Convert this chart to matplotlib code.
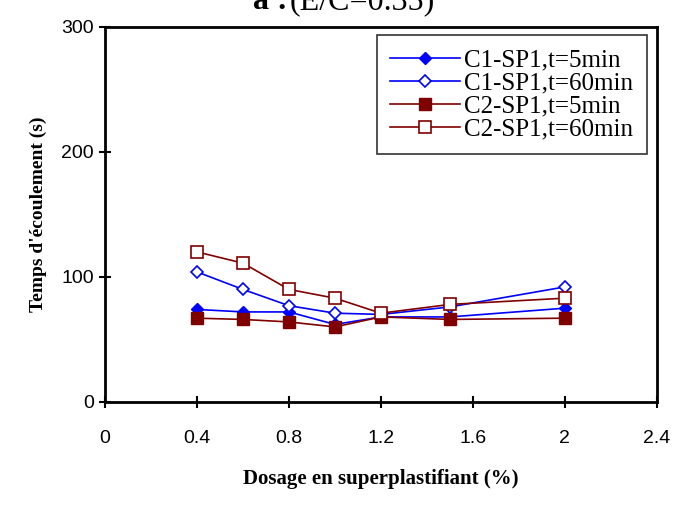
import matplotlib
matplotlib.use("Agg")
import matplotlib.pyplot as plt

# dosage (%) and flow time (s)
dosage = [0.4, 0.6, 0.8, 1.0, 1.2, 1.5, 2.0]
c1_5 = [74, 72, 72, 62, 68, 68, 75]
c1_60 = [104, 90, 77, 71, 70, 76, 92]
c2_5 = [67, 66, 64, 60, 68, 66, 67]
c2_60 = [120, 111, 90, 83, 71, 78, 83]

labels = ["C1-SP1,t=5min", "C1-SP1,t=60min", "C2-SP1,t=5min", "C2-SP1,t=60min"]
xticks = [0, 0.4, 0.8, 1.2, 1.6, 2, 2.4]
yticks = [0, 100, 200, 300]

blue = "#0000ff"
red = "#800000"
serif = ["Liberation Serif", "DejaVu Serif"]
narrow = ["Liberation Sans Narrow", "Liberation Sans", "DejaVu Sans"]

fig = plt.figure(figsize=(6.73, 5.05), dpi=100)
ax = fig.add_axes([0.156, 0.204, 0.820, 0.743])

ax.plot(dosage, c1_5, color=blue, marker="D", ms=6, mfc=blue, mec=blue, lw=1.2, label=labels[0])
ax.plot(dosage, c1_60, color=blue, marker="D", ms=6, mfc="white", mec=blue, mew=1.2, lw=1.2, label=labels[1])
ax.plot(dosage, c2_5, color=red, marker="s", ms=8, mfc=red, mec=red, lw=1.2, label=labels[2])
ax.plot(dosage, c2_60, color=red, marker="s", ms=8, mfc="white", mec=red, mew=1.2, lw=1.2, label=labels[3])

ax.set_xlim(0, 2.4)
ax.set_ylim(0, 300)
ax.set_xticks(xticks)
ax.set_xticklabels(["0", "0.4", "0.8", "1.2", "1.6", "2", "2.4"], family=narrow, fontsize=14)
ax.set_yticks(yticks)
ax.set_yticklabels([str(v) for v in yticks], family=narrow, fontsize=14)
ax.tick_params(direction="inout", length=8, width=1.5, pad=16)
ax.tick_params(axis="y", pad=4)
for s in ax.spines.values():
    s.set_linewidth(2)

ax.set_xlabel("Dosage en superplastifiant (%)", family=serif, fontweight="bold", fontsize=15, labelpad=16)
ax.set_ylabel("Temps d'écoulement (s)", family=serif, fontweight="bold", fontsize=14, labelpad=10)

leg = ax.legend(loc="upper right", bbox_to_anchor=(0.982, 0.978), prop={"family": serif, "size": 18},
                frameon=True, fancybox=False, edgecolor="black", handlelength=2.8,
                labelspacing=0.02, borderpad=0.55, handletextpad=0.15, borderaxespad=0)
leg.get_frame().set_linewidth(1.2)

fig.text(253 / 673, 1 - 9 / 505, "a :", family=serif, fontweight="bold", fontsize=23, ha="left", va="baseline")
fig.text(290 / 673, 1 - 9 / 505, "(E/C=0.35)", family=serif, fontsize=23, ha="left", va="baseline")

fig.savefig("out.png", dpi=100)
